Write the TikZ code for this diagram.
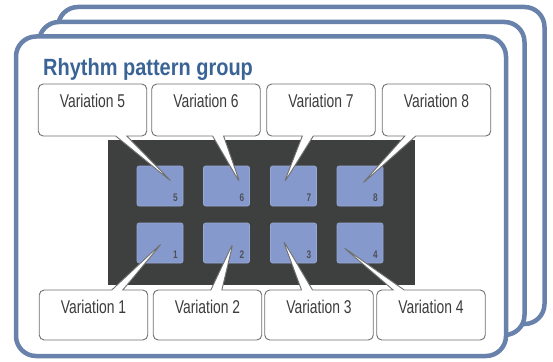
\documentclass[tikz,border=0pt]{standalone}
\usepackage{fontspec}
\setmainfont{Liberation Sans}[FakeStretch=0.75]
\newfontfamily\titlefont{Liberation Sans}[FakeStretch=0.85]
\usepackage{tikz}
\usetikzlibrary{shapes.callouts}
\definecolor{framecol}{HTML}{6882AC}
\definecolor{titlecol}{HTML}{3A6496}
\definecolor{panelcol}{HTML}{3E403F}
\definecolor{padcol}{HTML}{8599CC}
\definecolor{numcol}{HTML}{4F4F55}
\definecolor{boxline}{HTML}{707070}
\definecolor{boxtext}{HTML}{3C3C3C}

\begin{document}
\begin{tikzpicture}[x=1pt,y=-1pt,
    group frame/.style={draw=framecol,line width=4.5pt,fill=white,rounded corners=20pt},
    pad/.style={fill=padcol,draw=padcol!85!white,line width=0.6pt,rounded corners=2pt,
        minimum width=46pt,minimum height=40pt,inner sep=0pt},
    pad num/.style={text=numcol,font=\bfseries\fontsize{11}{12}\selectfont,inner sep=0pt},
    var box/.style={rectangle callout,draw=boxline,fill=white,line width=0.9pt,
        rounded corners=5pt,callout pointer width=11pt,inner sep=0pt,
        minimum width=108.5pt,text height=23pt,text=boxtext,
        font=\fontsize{18.5}{20}\selectfont}
]
    \useasboundingbox (0,0) rectangle (553,361);

    % stacked group frames
    \draw[group frame] (58,7) rectangle (544.5,324);
    \draw[group frame] (39,22) rectangle (524.5,335);
    \draw[group frame] (16,36.5) rectangle (506,356);

    \node[anchor=base west,inner sep=0pt,text=titlecol,
        font=\titlefont\bfseries\fontsize{23.5}{26}\selectfont] (title) at (43,75) {Rhythm pattern group};

    % pad panel
    \node[fill=panelcol,minimum width=307pt,minimum height=145pt,inner sep=0pt] (panel) at (261.5,212.5) {};

    \node[pad] (p5) at (160,186) {};
    \node[pad] (p6) at (226.5,186) {};
    \node[pad] (p7) at (293.5,186) {};
    \node[pad] (p8) at (360,186) {};
    \node[pad] (p1) at (160,243) {};
    \node[pad] (p2) at (226.5,243) {};
    \node[pad] (p3) at (293.5,243) {};
    \node[pad] (p4) at (360,243) {};

    \foreach \n in {1,...,8}
        \node[pad num] (n\n) at ([shift={(-8,-9)}]p\n.south east) {\n};

    % pointer tips
    \coordinate (tip5) at (172,182);
    \coordinate (tip6) at (240,183);
    \coordinate (tip7) at (284,183);
    \coordinate (tip8) at (362,184);
    \coordinate (tip1) at (162,243);
    \coordinate (tip2) at (233,243);
    \coordinate (tip3) at (283,240);
    \coordinate (tip4) at (343,247);

    \node[var box,text depth=29pt,callout absolute pointer={(tip5)}] (v5) at (92.5,110) {Variation 5};
    \node[var box,text depth=29pt,callout absolute pointer={(tip6)}] (v6) at (206,110) {Variation 6};
    \node[var box,text depth=29pt,callout absolute pointer={(tip7)}] (v7) at (321,110) {Variation 7};
    \node[var box,text depth=29pt,callout absolute pointer={(tip8)}] (v8) at (436.5,110) {Variation 8};
    \node[var box,text depth=27pt,callout absolute pointer={(tip1)}] (v1) at (93.5,315) {Variation 1};
    \node[var box,text depth=27pt,callout absolute pointer={(tip2)}] (v2) at (207.5,315) {Variation 2};
    \node[var box,text depth=27pt,callout absolute pointer={(tip3)}] (v3) at (319,315) {Variation 3};
    \node[var box,text depth=27pt,callout absolute pointer={(tip4)}] (v4) at (431,315) {Variation 4};
\end{tikzpicture}
\end{document}
